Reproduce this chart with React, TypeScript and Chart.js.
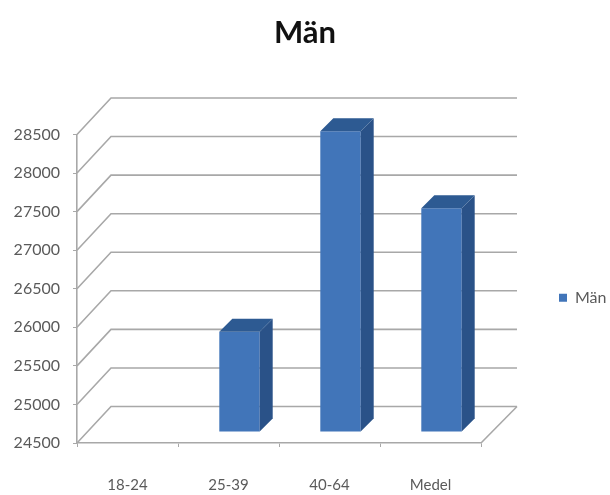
import React, { useEffect, useRef } from "react";
import { Chart, registerables } from "chart.js";

Chart.register(...registerables);

const categories = ["18-24", "25-39", "40-64", "Medel"];
const seriesName = "Män";
const seriesValues = [null, 25800, 28400, 27400];
const axisMin = 24500;
const axisMax = 28500;

const FONT = "Lato, 'Open Sans', sans-serif";
const TEXT = "#5a5a5a";
const GRID = "#a8a8a8";
const FRONT = "#4175b9";
const SIDE = "#2a5288";
const TOP = "#2d5a92";

// Depth of the back wall and of each column, in pixels.
const WALL_DX = 34;
const WALL_DY = 36.5;
const BAR_SHIFT = 11;
const BAR_DEPTH = 13;

const perspective = {
  id: "perspective",
  afterLayout(chart: any) {
    // Sit the legend slightly below the plot's middle.
    if (chart.legend) {
      chart.legend.top += 9;
      chart.legend.bottom += 9;
    }
  },
  beforeDatasetsDraw(chart: any) {
    const { ctx, chartArea, scales } = chart;
    const { left, right } = chartArea;
    ctx.save();
    ctx.strokeStyle = GRID;
    ctx.lineWidth = 1.6;
    scales.y.ticks.forEach((tick: any) => {
      const y = scales.y.getPixelForValue(tick.value);
      ctx.beginPath();
      ctx.moveTo(left, y);
      ctx.lineTo(left + WALL_DX, y - WALL_DY);
      ctx.lineTo(right + WALL_DX + 2, y - WALL_DY);
      ctx.stroke();
    });
    // Right edge of the floor.
    const floor = scales.y.bottom;
    ctx.beginPath();
    ctx.moveTo(right, floor);
    ctx.lineTo(right + WALL_DX + 2, floor - WALL_DY);
    ctx.stroke();
    ctx.restore();
  },
  beforeDatasetDraw(chart: any) {
    chart.ctx.save();
    chart.ctx.translate(BAR_SHIFT, -BAR_SHIFT);
  },
  afterDatasetDraw(chart: any, args: any) {
    const { ctx } = chart;
    args.meta.data.forEach((bar: any, i: number) => {
      if (chart.data.datasets[args.index].data[i] == null) return;
      const { x, y, base, width } = bar.getProps(["x", "y", "base", "width"], true);
      const l = x - width / 2;
      const r = x + width / 2;
      ctx.fillStyle = SIDE;
      ctx.beginPath();
      ctx.moveTo(r, y);
      ctx.lineTo(r + BAR_DEPTH, y - BAR_DEPTH);
      ctx.lineTo(r + BAR_DEPTH, base - BAR_DEPTH);
      ctx.lineTo(r, base);
      ctx.closePath();
      ctx.fill();
      ctx.fillStyle = TOP;
      ctx.beginPath();
      ctx.moveTo(l, y);
      ctx.lineTo(l + BAR_DEPTH, y - BAR_DEPTH);
      ctx.lineTo(r + BAR_DEPTH, y - BAR_DEPTH);
      ctx.lineTo(r, y);
      ctx.closePath();
      ctx.fill();
    });
    ctx.restore();
  },
};

export default function App() {
  const ref = useRef<HTMLCanvasElement>(null);

  useEffect(() => {
    const chart = new Chart(ref.current!, {
      type: "bar",
      data: {
        labels: categories,
        datasets: [
          {
            label: seriesName,
            data: seriesValues,
            base: axisMin,
            backgroundColor: FRONT,
            barPercentage: 0.4,
            categoryPercentage: 1,
            clip: false,
          } as any,
        ],
      },
      plugins: [perspective],
      options: {
        animation: false,
        responsive: false,
        layout: { padding: 0 },
        plugins: {
          tooltip: { enabled: false },
          title: {
            display: true,
            text: seriesName,
            color: "#111111",
            font: { family: FONT, size: 31, weight: "bold" },
            padding: { top: 14, bottom: 83.3 },
          },
          legend: {
            position: "right",
            fullSize: false,
            maxWidth: 129,
            labels: {
              boxWidth: 8,
              boxHeight: 8,
              padding: 78,
              color: TEXT,
              font: { family: FONT, size: 16 },
            },
          },
        },
        scales: {
          x: {
            afterFit(s: any) {
              s.height = 52;
            },
            border: { color: GRID, width: 1.6 },
            grid: { drawOnChartArea: false, drawTicks: true, tickLength: 4, color: GRID },
            ticks: { color: TEXT, font: { family: FONT, size: 15 }, padding: 29, maxRotation: 0 },
          },
          y: {
            min: axisMin,
            max: axisMax,
            afterFit(s: any) {
              s.width = 77;
            },
            border: { color: GRID, width: 1.6 },
            grid: { drawOnChartArea: false, drawTicks: true, tickLength: 4, color: GRID },
            ticks: {
              stepSize: 500,
              color: TEXT,
              font: { family: FONT, size: 16 },
              padding: 13,
              autoSkip: false,
              callback: (v: any) => String(v),
            },
          },
        },
      } as any,
    });
    return () => chart.destroy();
  }, []);

  return (
    <div style={{ position: "absolute", left: 0, top: 0, width: 610, height: 495, background: "#ffffff" }}>
      <canvas ref={ref} width={610} height={495} style={{ display: "block" }} />
    </div>
  );
}
